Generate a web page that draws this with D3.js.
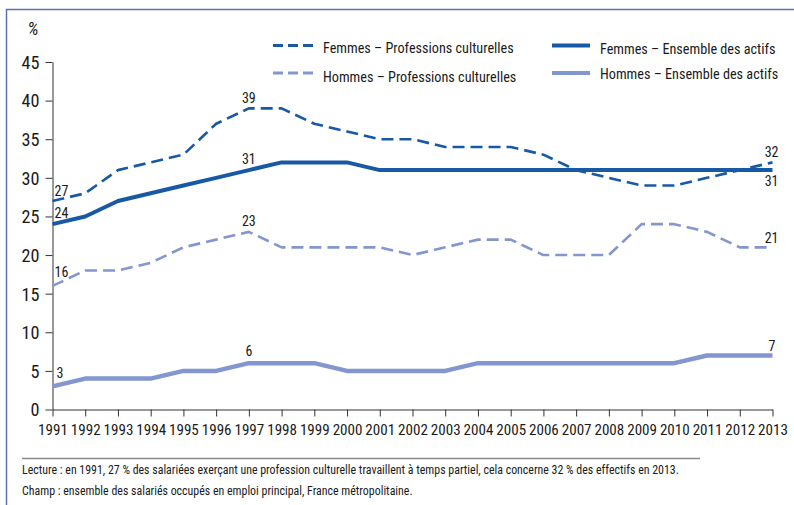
<!DOCTYPE html>
<html>
<head>
<meta charset="utf-8">
<script src="https://cdn.jsdelivr.net/npm/d3@7"></script>
<style>
  body { margin: 0; background: #fff; }
  svg { display: block; }
  text { fill: #1a1a1a; }
</style>
</head>
<body>
<svg width="794" height="505"></svg>
<script>
const svg = d3.select("svg");

// data
const years = d3.range(1991, 2014);
const femmesCult = [27, 28, 31, 32, 33, 37, 39, 39, 37, 36, 35, 35, 34, 34, 34, 33, 31, 30, 29, 29, 30, 31, 32];
const femmesActifs = [24, 25, 27, 28, 29, 30, 31, 32, 32, 32, 31, 31, 31, 31, 31, 31, 31, 31, 31, 31, 31, 31, 31];
const hommesCult = [16, 18, 18, 19, 21, 22, 23, 21, 21, 21, 21, 20, 21, 22, 22, 20, 20, 20, 24, 24, 23, 21, 21];
const hommesActifs = [3, 4, 4, 4, 5, 5, 6, 6, 6, 5, 5, 5, 5, 6, 6, 6, 6, 6, 6, 6, 7, 7, 7];
const yTicks = [0, 5, 10, 15, 20, 25, 30, 35, 40, 45];

const seriesNames = [
  "Femmes – Professions culturelles",
  "Hommes – Professions culturelles",
  "Femmes – Ensemble des actifs",
  "Hommes – Ensemble des actifs"
];

const notes = [
  "Lecture : en 1991, 27 % des salariées exerçant une profession culturelle travaillent à temps partiel, cela concerne 32 % des effectifs en 2013.",
  "Champ : ensemble des salariés occupés en emploi principal, France métropolitaine."
];

const dark = "#1859a6", light = "#8396cf";

const series = [
  { name: seriesNames[0], values: femmesCult, color: dark, width: 2.6, dash: "12,6" },
  { name: seriesNames[1], values: hommesCult, color: light, width: 2.6, dash: "12,6" },
  { name: seriesNames[2], values: femmesActifs, color: dark, width: 4, dash: null },
  { name: seriesNames[3], values: hommesActifs, color: light, width: 4.5, dash: null }
];

// which points carry a value label (series index, year) + where the text sits
const labels = [
  [0, 1991, 2, -5, "start"], [2, 1991, 2, -6, "start"], [1, 1991, 2, -9, "start"], [3, 1991, 4, -8, "start"],
  [0, 1997, 0, -5, "middle"], [2, 1997, 0, -6, "middle"], [1, 1997, 0, -6, "middle"], [3, 1997, 0, -7, "middle"],
  [0, 2013, 6, -5, "end"], [2, 2013, 6, 16, "end"], [1, 2013, 6, -4, "end"], [3, 2013, 3, -4, "end"]
];

// pick a narrow font if one is around
const ctx = document.createElement("canvas").getContext("2d");
function hasFont(f) {
  const s = "mmmwwwlli 1991 Femmes";
  ctx.font = "40px monospace";
  const a = ctx.measureText(s).width;
  ctx.font = `40px "${f}", monospace`;
  return ctx.measureText(s).width !== a;
}
const candidates = ["Roboto Condensed", "Open Sans Condensed", "Liberation Sans Narrow", "Noto Sans Condensed", "DejaVu Sans Condensed"];
const font = candidates.find(hasFont) || "sans-serif";
const family = `"${font}", sans-serif`;
svg.style("font-family", family);

// largest size (up to max) where the text fits the width
function fitSize(str, w, max) {
  ctx.font = `100px ${family}`;
  const per = ctx.measureText(str).width / 100;
  return Math.min(max, Math.floor(w / per * 10) / 10);
}

// frame
svg.append("path")
  .attr("d", "M6.5,505 V9.5 H794")
  .attr("fill", "none")
  .attr("stroke", "#5d70b6")
  .attr("stroke-width", 1.5);

const x = d3.scaleLinear().domain([1991, 2013]).range([52.5, 772.5]);
const y = d3.scaleLinear().domain([0, 45]).range([409.5, 62]);

// axes
const yAxis = svg.append("g")
  .attr("transform", "translate(52.5,0)")
  .call(d3.axisLeft(y).tickValues(yTicks).tickSize(7).tickPadding(6).tickSizeOuter(0))
  .attr("font-family", null);
yAxis.select(".domain").attr("stroke", "#333");
yAxis.selectAll(".tick line").attr("stroke", "#333");
yAxis.selectAll(".tick text")
  .attr("font-size", fitSize("45", 18, 19))
  .attr("fill", "#1a1a1a")
  .attr("dy", "0.35em");

const xSize = fitSize("2000", 30, 18);
const xAxis = svg.append("g")
  .attr("transform", "translate(0,409.5)")
  .call(d3.axisBottom(x).tickValues(years).tickFormat(d3.format("d")).tickSize(7).tickPadding(8).tickSizeOuter(0))
  .attr("font-family", null);
xAxis.select(".domain").attr("stroke", "#333");
xAxis.selectAll(".tick line").attr("stroke", "#333");
xAxis.selectAll(".tick text")
  .attr("font-size", xSize)
  .attr("fill", "#1a1a1a");

svg.append("text")
  .attr("x", 33).attr("y", 35)
  .attr("text-anchor", "middle")
  .attr("font-size", 18)
  .attr("font-style", "italic")
  .attr("fill", "#333")
  .text("%");

// lines
const line = d3.line()
  .x((d, i) => x(years[i]))
  .y(d => y(d));

svg.append("g").selectAll("path")
  .data(series)
  .join("path")
  .attr("d", d => line(d.values))
  .attr("fill", "none")
  .attr("stroke", d => d.color)
  .attr("stroke-width", d => d.width)
  .attr("stroke-dasharray", d => d.dash)
  .attr("stroke-linejoin", "round");

// value labels
svg.append("g").selectAll("text")
  .data(labels)
  .join("text")
  .attr("x", d => x(d[1]) + d[2])
  .attr("y", d => y(series[d[0]].values[years.indexOf(d[1])]) + d[3])
  .attr("text-anchor", d => d[4])
  .attr("font-size", 14)
  .text(d => series[d[0]].values[years.indexOf(d[1])]);

// legend
const legendPos = [
  { x: 273, y: 45.5, ty: 53, len: 192 },
  { x: 273, y: 73, ty: 82, len: 194 },
  { x: 552, y: 45.5, ty: 54, len: 178 },
  { x: 552, y: 73, ty: 79, len: 180 }
];
const legendSize = d3.min(series, (d, i) => fitSize(d.name, legendPos[i].len, 17));
const legend = svg.append("g").selectAll("g")
  .data(series)
  .join("g");
legend.append("line")
  .attr("x1", (d, i) => legendPos[i].x)
  .attr("x2", (d, i) => legendPos[i].x + (d.dash ? 40 : 38))
  .attr("y1", (d, i) => legendPos[i].y)
  .attr("y2", (d, i) => legendPos[i].y)
  .attr("stroke", d => d.color)
  .attr("stroke-width", d => d.dash ? 3 : 4)
  .attr("stroke-dasharray", d => d.dash ? "10,5" : null);
legend.append("text")
  .attr("x", (d, i) => legendPos[i].x + (d.dash ? 50 : 48))
  .attr("y", (d, i) => legendPos[i].ty)
  .attr("font-size", legendSize)
  .text(d => d.name);

// footnote
svg.append("line")
  .attr("x1", 22).attr("x2", 700)
  .attr("y1", 458.5).attr("y2", 458.5)
  .attr("stroke", "#8a8a8a")
  .attr("stroke-width", 1.5);

const noteSize = fitSize(notes[0], 662, 13);
svg.append("g").selectAll("text")
  .data(notes)
  .join("text")
  .attr("x", 22)
  .attr("y", (d, i) => 474 + i * 21)
  .attr("font-size", noteSize)
  .attr("fill", "#333")
  .text(d => d);
</script>
</body>
</html>
